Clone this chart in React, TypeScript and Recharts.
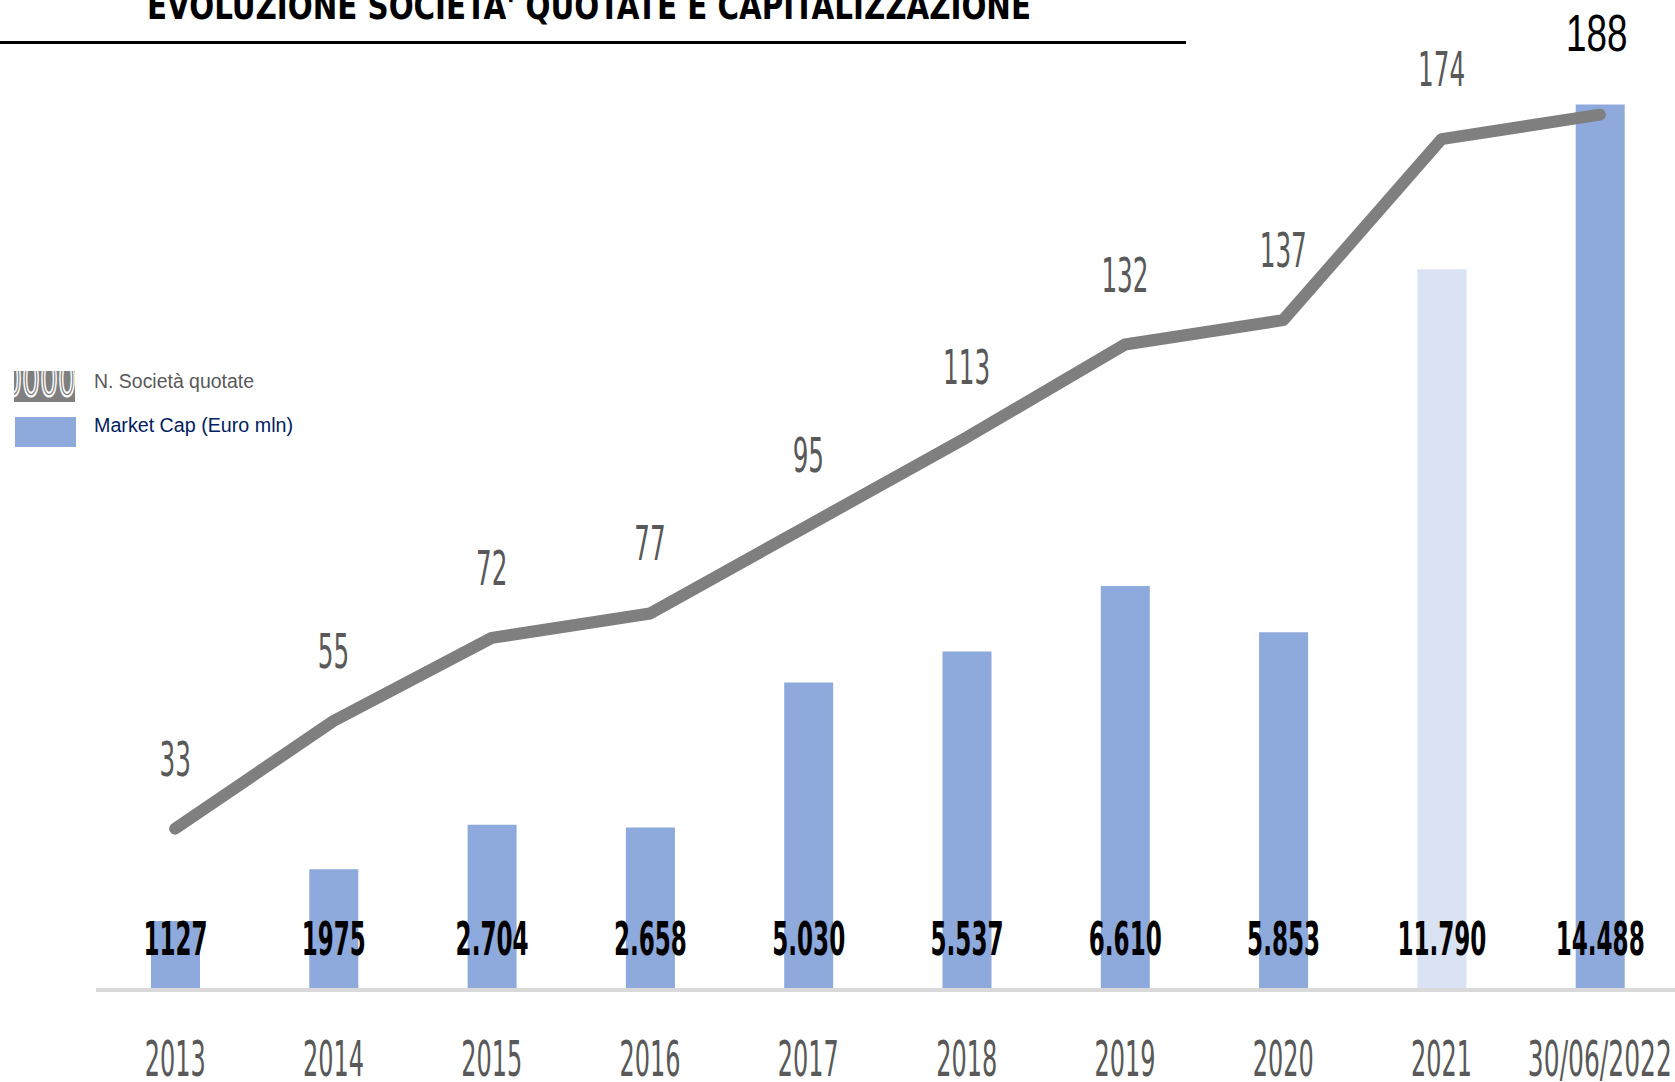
import React from 'react';
import { ComposedChart, Bar, Line, XAxis, YAxis, Cell, LabelList } from 'recharts';

const categories = ['2013', '2014', '2015', '2016', '2017', '2018', '2019', '2020', '2021', '30/06/2022'];
const marketCap = [1127, 1975, 2704, 2658, 5030, 5537, 6610, 5853, 11790, 14488];
const marketCapLabels = ['1127', '1975', '2.704', '2.658', '5.030', '5.537', '6.610', '5.853', '11.790', '14.488'];
const listedCompanies = [33, 55, 72, 77, 95, 113, 132, 137, 174, 179];
const listedCompaniesLabels = ['33', '55', '72', '77', '95', '113', '132', '137', '174', '188'];
const highlightedCategory = '2021';

const title = "EVOLUZIONE SOCIETA' QUOTATE E CAPITALIZZAZIONE";
const legendLine = 'N. Società quotate';
const legendBar = 'Market Cap (Euro mln)';

const data = categories.map((c, i) => ({
  name: c,
  cap: marketCap[i],
  capLabel: marketCapLabels[i],
  n: listedCompanies[i],
  nLabel: listedCompaniesLabels[i],
}));

const FONT = '"Liberation Sans Narrow", "DejaVu Sans Condensed", "Liberation Sans", Arial, sans-serif';

const textWidth = (s: string, digit: number, punct: number) =>
  s.split('').reduce((a, ch) => a + (/[0-9]/.test(ch) ? digit : punct), 0);

const BarLabel = (props: any) => {
  const { x, y, width, height, value } = props;
  const s = String(value);
  return (
    <text
      x={x + width / 2}
      y={y + height - 35}
      textAnchor="middle"
      fontFamily={FONT}
      fontWeight="bold"
      fontSize={47}
      fill="#000"
      textLength={textWidth(s, 16, 9)}
      lengthAdjust="spacingAndGlyphs"
    >
      {s}
    </text>
  );
};

const LineLabel = (props: any) => {
  const { x, y, value, index } = props;
  const s = String(value);
  if (index === categories.length - 1) {
    return (
      <text
        x={x - 3}
        y={y - 64}
        textAnchor="middle"
        fontFamily='"Liberation Sans", Arial, sans-serif'
        fontSize={51}
        fill="#000"
        textLength={textWidth(s, 20.5, 10)}
        lengthAdjust="spacingAndGlyphs"
      >
        {s}
      </text>
    );
  }
  return (
    <text
      x={x}
      y={y - 53}
      textAnchor="middle"
      fontFamily={FONT}
      fontSize={48}
      fill="#595959"
      textLength={textWidth(s, 15.7, 9)}
      lengthAdjust="spacingAndGlyphs"
    >
      {s}
    </text>
  );
};

const YearTick = (props: any) => {
  const { x, y, payload } = props;
  const s = String(payload.value);
  return (
    <text
      x={x}
      y={y + 86}
      textAnchor="middle"
      fontFamily={FONT}
      fontSize={50}
      fill="#595959"
      textLength={textWidth(s, 15.25, 11)}
      lengthAdjust="spacingAndGlyphs"
    >
      {s}
    </text>
  );
};

export default function App() {
  return (
    <div style={{ position: 'absolute', left: 0, top: 0, width: 1675, height: 1082, background: '#fff', overflow: 'hidden' }}>
      <ComposedChart
        width={1675}
        height={1082}
        data={data}
        margin={{ top: 12, right: -4, left: 96, bottom: 0 }}
        barCategoryGap={0}
      >
        <XAxis
          dataKey="name"
          height={92}
          axisLine={{ stroke: '#D9D9D9', strokeWidth: 4 }}
          tickLine={false}
          tickSize={0}
          tickMargin={0}
          interval={0}
          tick={<YearTick />}
        />
        <YAxis yAxisId="bar" hide domain={[0, 16000]} />
        <YAxis yAxisId="line" hide domain={[0, 200]} />
        <Bar yAxisId="bar" dataKey="cap" barSize={49} isAnimationActive={false}>
          {data.map((d) => (
            <Cell key={d.name} fill={d.name === highlightedCategory ? '#DAE3F3' : '#8EA9DB'} />
          ))}
          <LabelList dataKey="capLabel" content={<BarLabel />} />
        </Bar>
        <Line
          yAxisId="line"
          dataKey="n"
          stroke="#7F7F7F"
          strokeWidth={12}
          strokeLinecap="round"
          strokeLinejoin="round"
          dot={false}
          activeDot={false}
          isAnimationActive={false}
        >
          <LabelList dataKey="nLabel" content={<LineLabel />} />
        </Line>
      </ComposedChart>
      <svg
        width={1675}
        height={1082}
        style={{ position: 'absolute', left: 0, top: 0, pointerEvents: 'none' }}
      >
        <defs>
          <clipPath id="swatchClip">
            <rect x={14} y={371} width={61} height={31} />
          </clipPath>
        </defs>
        <text
          x={147}
          y={19}
          fontFamily={FONT}
          fontWeight="bold"
          fontSize={38}
          fill="#000"
          textLength={884}
          lengthAdjust="spacingAndGlyphs"
        >
          {title}
        </text>
        <line x1={0} x2={1186} y1={42.5} y2={42.5} stroke="#000" strokeWidth={3} />
        <rect x={14} y={371} width={61} height={31} fill="#7F7F7F" />
        <g clipPath="url(#swatchClip)">
          <text
            x={4}
            y={396}
            fontFamily={FONT}
            fontSize={48}
            fill="#7F7F7F"
            stroke="#fff"
            strokeWidth={2}
            textLength={72}
            lengthAdjust="spacingAndGlyphs"
          >
            0000
          </text>
        </g>
        <rect x={15} y={417} width={61} height={30} fill="#8EA9DB" />
        <text
          x={94}
          y={388}
          fontFamily='"Liberation Sans", Arial, sans-serif'
          fontSize={20}
          fill="#595959"
          textLength={160}
          lengthAdjust="spacingAndGlyphs"
        >
          {legendLine}
        </text>
        <text
          x={94}
          y={432}
          fontFamily='"Liberation Sans", Arial, sans-serif'
          fontSize={20}
          fill="#002060"
          textLength={199}
          lengthAdjust="spacingAndGlyphs"
        >
          {legendBar}
        </text>
      </svg>
    </div>
  );
}
